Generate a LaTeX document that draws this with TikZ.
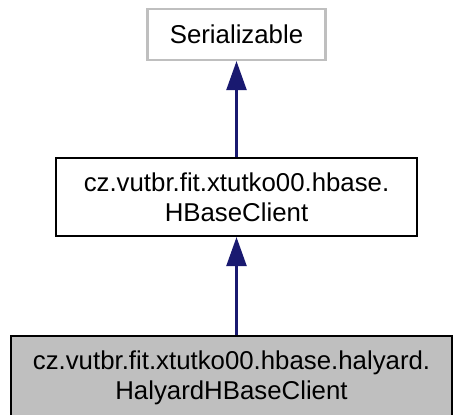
\documentclass[tikz,border=0pt]{standalone}
\usepackage{fontspec}
\setmainfont{Liberation Sans}
\usetikzlibrary{arrows.meta}
\definecolor{edgeblue}{HTML}{191970}
\definecolor{boxgray}{HTML}{BFBFBF}
\begin{document}
\begin{tikzpicture}[x=1pt,y=-1pt,
  cls/.style={draw=black, line width=2.2pt, inner sep=0pt, align=center,
    font=\fontsize{25.8}{30}\selectfont, text=black},
  extcls/.style={cls, draw=boxgray},
  curcls/.style={cls, fill=boxgray},
  inherit/.style={draw=edgeblue, line width=2.4pt,
    -{Triangle[length=29pt,width=20pt]}, color=edgeblue}]
\useasboundingbox (0,0) rectangle (454,414);
\node[extcls, minimum width=178pt, minimum height=51pt] (ser) at (236.5,34.5) {Serializable};
\node[cls, minimum width=361pt, minimum height=78pt] (mid) at (236.5,197) {cz.vutbr.fit.xtutko00.hbase.\\HBaseClient};
\node[curcls, minimum width=441pt, minimum height=84pt] (bot) at (231.5,378) {cz.vutbr.fit.xtutko00.hbase.halyard.\\HalyardHBaseClient};
\draw[inherit] (bot.north -| mid.south) -- (mid.south);
\draw[inherit] (mid.north) -- (ser.south);
\end{tikzpicture}
\end{document}
